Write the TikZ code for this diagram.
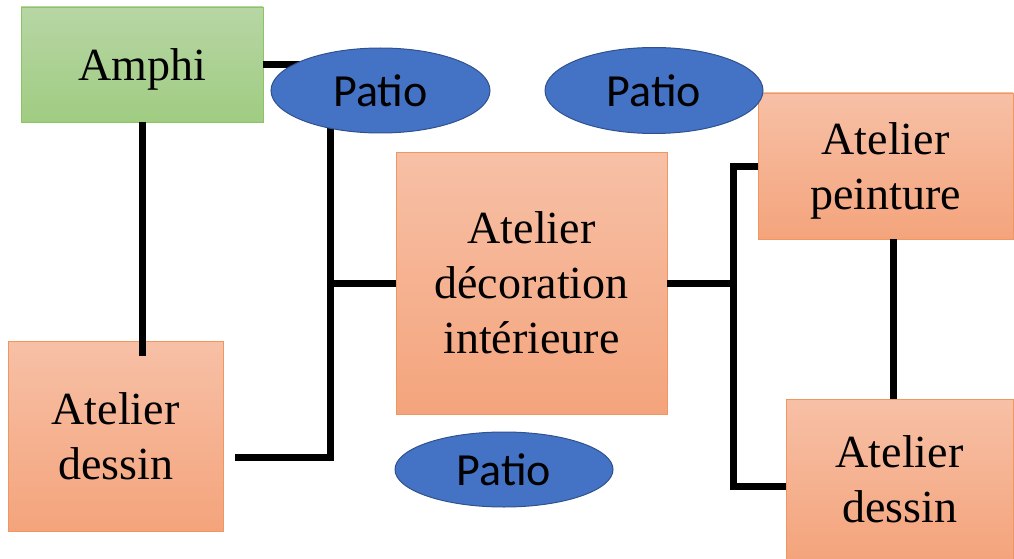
\documentclass[tikz,border=0pt]{standalone}
\usepackage{fontspec}
\setmainfont{Liberation Serif}
\newfontfamily\calibri{Carlito}
\usetikzlibrary{shapes.geometric}
\definecolor{orTop}{RGB}{247,192,166}
\definecolor{orBot}{RGB}{244,164,124}
\definecolor{orLine}{RGB}{240,150,95}
\definecolor{grTop}{RGB}{183,214,164}
\definecolor{grBot}{RGB}{160,204,130}
\definecolor{grLine}{RGB}{140,195,100}
\definecolor{blFill}{RGB}{68,114,196}
\definecolor{blLine}{RGB}{47,82,143}
\newcommand{\lowr}[1]{\raisebox{-4.5pt}[\height][\depth]{#1}}
\tikzset{
  room/.style={draw=orLine, line width=0.9pt, top color=orTop, bottom color=orBot,
    inner sep=0pt, align=center, font=\fontsize{46}{55}\selectfont},
  amphibox/.style={room, draw=grLine, top color=grTop, bottom color=grBot},
  patio/.style={ellipse, draw=blLine, line width=1pt, fill=blFill, inner sep=0pt,
    font=\calibri\fontsize{46}{55}\selectfont},
  link/.style={draw=black, line width=7pt}
}
\begin{document}
\begin{tikzpicture}[x=1pt, y=-1pt]
\useasboundingbox (0,0) rectangle (1014,559);
% rooms
\node[amphibox, minimum width=242pt, minimum height=115pt] (amphi) at (142,64.5) {\lowr{Amphi}};
\node[room, minimum width=215pt, minimum height=190pt] (dessinL) at (115.5,436) {Atelier\\dessin};
\node[room, minimum width=271pt, minimum height=262pt] (deco) at (531.5,283) {Atelier\\décoration\\intérieure};
\node[room, minimum width=255pt, minimum height=146pt] (peint) at (885.5,166) {\lowr{Atelier}\\\lowr{peinture}};
\node[room, minimum width=227pt, minimum height=160pt] (dessinR) at (899.5,479) {Atelier\\dessin};
% junction coordinates
\coordinate (p1top) at (330,91);
\coordinate (p1bend) at (330,457);
\coordinate (p1end) at (235,457);
\coordinate (p1mid) at (330,283);
\coordinate (amEnd) at (142,356);
\coordinate (amRight) at (300,64.5);
\coordinate (jTop) at (733,166);
\coordinate (jMid) at (733,283);
\coordinate (jBot) at (733,486);
\coordinate (dRin) at (786,486);
% connectors
\draw[link] (amphi.east) -- (amRight);
\draw[link] (amphi.south) -- (amEnd);
\draw[link, line join=miter] (p1top) -- (p1bend) -- (p1end);
\draw[link] (p1mid) -- (deco.west);
\draw[link] (deco.east) -- (jMid);
\draw[link, line join=miter] (peint.west) -- (jTop) -- (jBot) -- (dRin);
\draw[link] (peint.south -| 893,0) -- (dessinR.north -| 893,0);
% patios
\node[patio, minimum width=219pt, minimum height=85pt] (patio1) at (380.5,90.5) {Patio};
\node[patio, minimum width=218pt, minimum height=86pt] (patio2) at (654,90.5) {Patio};
\node[patio, minimum width=218pt, minimum height=75pt] (patio3) at (504,469.5) {Patio};
\end{tikzpicture}
\end{document}
